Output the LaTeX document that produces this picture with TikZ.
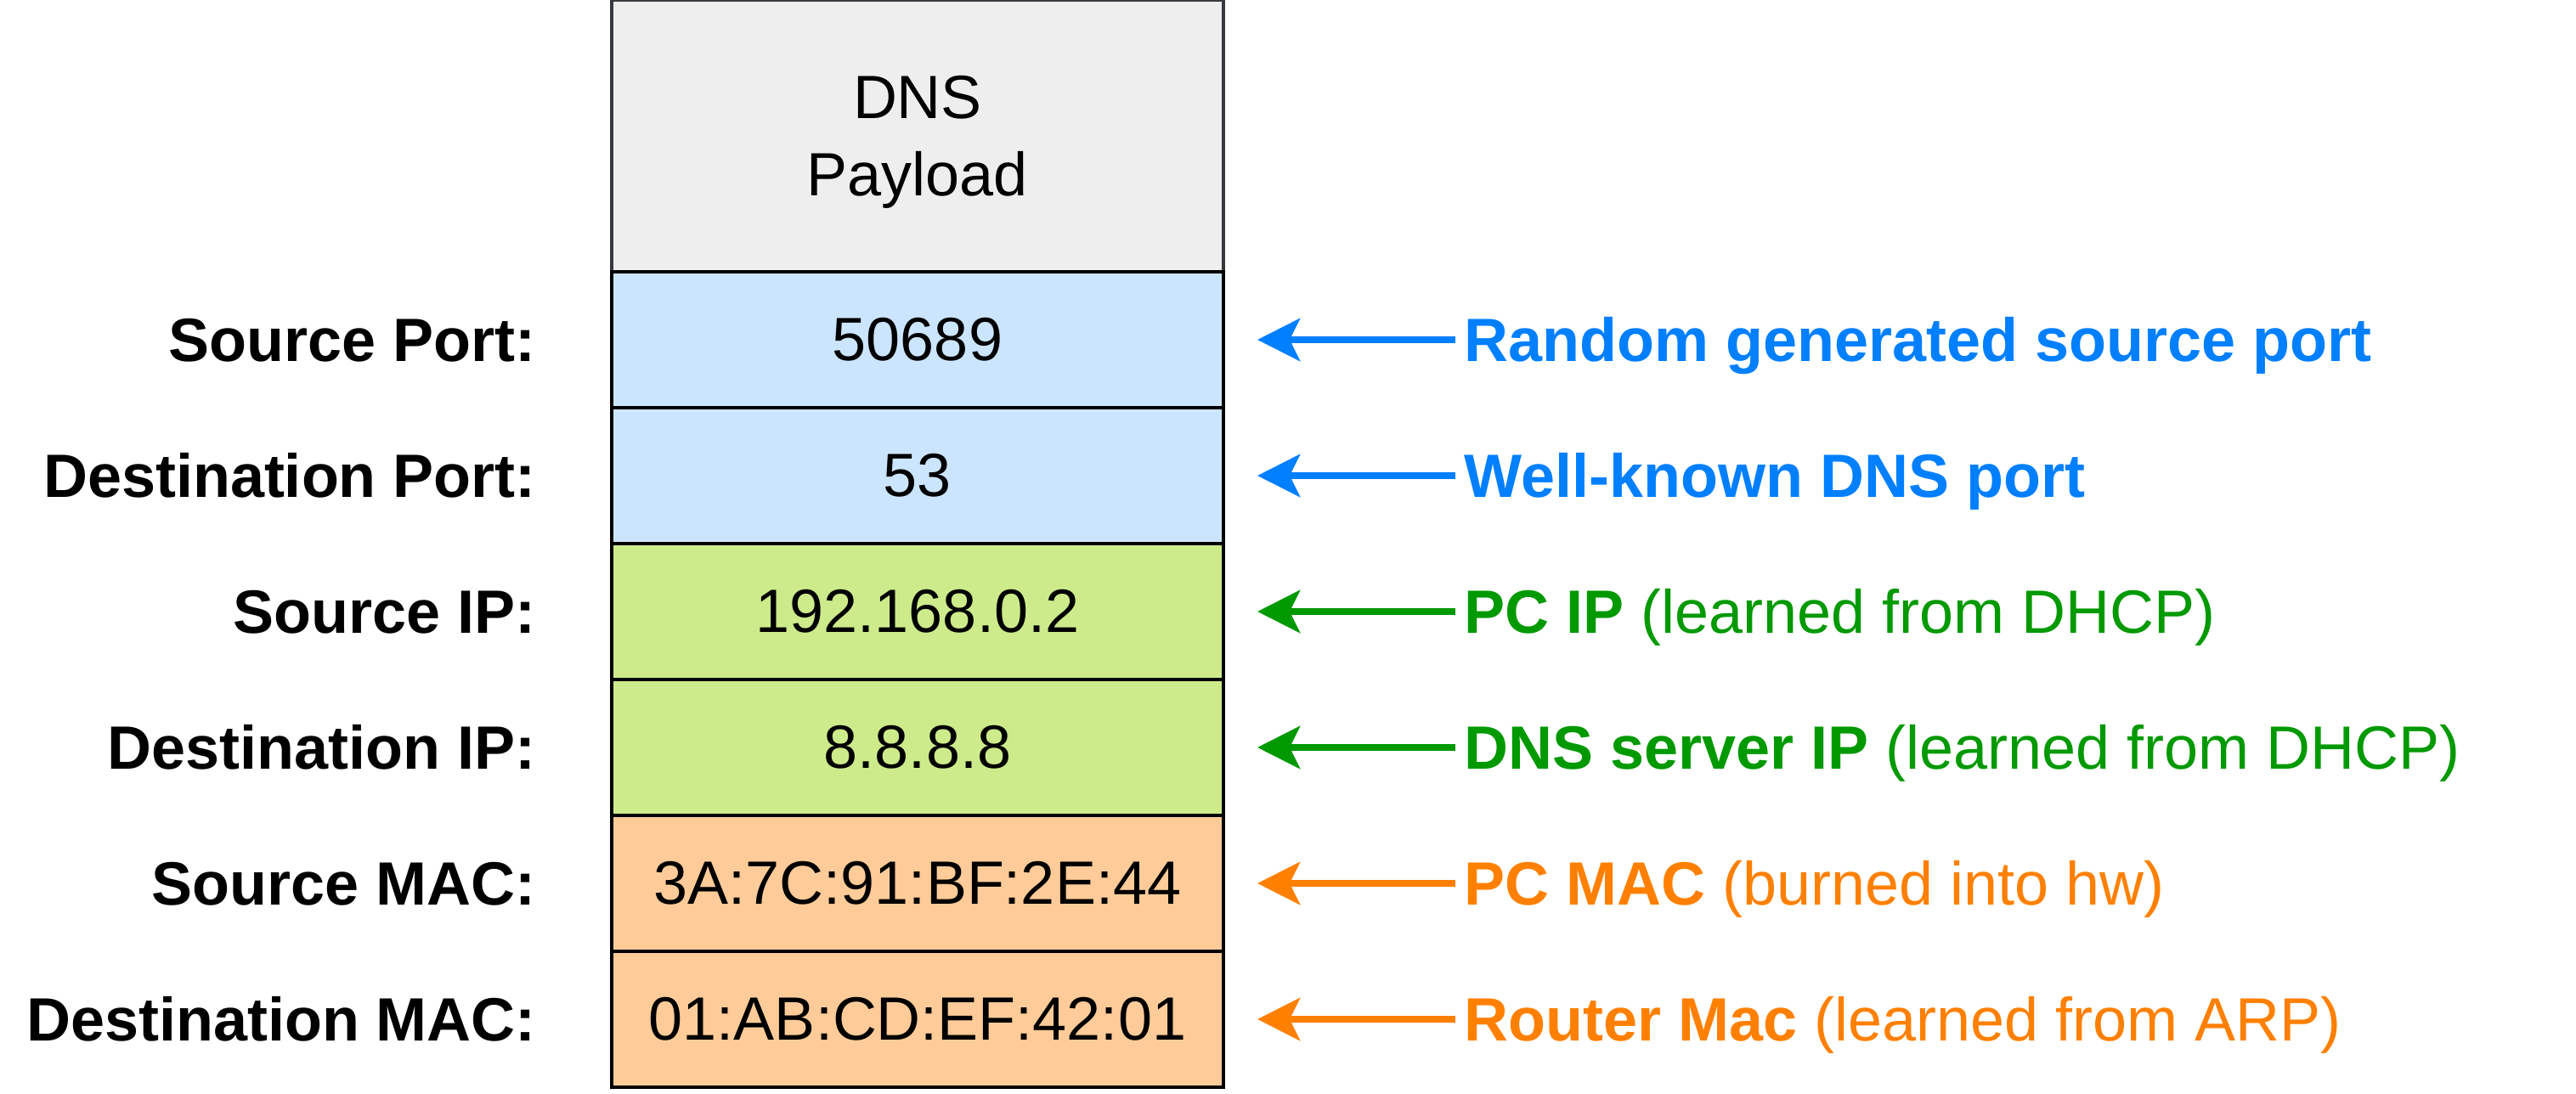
\documentclass[tikz,border=0pt]{standalone}
\usepackage{fontspec}
\setmainfont{Liberation Sans}
\usetikzlibrary{arrows.meta,positioning}

\definecolor{payfill}{HTML}{EEEEEE}
\definecolor{paydraw}{HTML}{36393D}
\definecolor{portfill}{HTML}{CCE5FF}
\definecolor{ipfill}{HTML}{CDEB8B}
\definecolor{macfill}{HTML}{FFCC99}
\definecolor{porttext}{HTML}{007FFF}
\definecolor{iptext}{HTML}{009900}
\definecolor{mactext}{HTML}{FF8000}

\begin{document}
\begin{tikzpicture}[
  font=\fontsize{12.8}{16.3}\selectfont,
  row/.style={draw=black,line width=0.025cm,minimum width=4.5cm,minimum height=1cm,
    inner sep=0pt,outer sep=0pt},
  lab/.style={inner sep=0pt,text height=0.322cm,text depth=0pt,
    font=\fontsize{12.8}{16.3}\selectfont\bfseries},
  note/.style={inner sep=0pt,text height=0.322cm,text depth=0pt},
  arr/.style={line width=0.05cm,-{Stealth[length=0.3125cm,width=0.3125cm,inset=0.075cm]},
    shorten >=0.25cm,shorten <=0.06cm}
]
\useasboundingbox (0,-0.05) rectangle (18.95,8);

% 报文各字段
\node[row,draw=paydraw,fill=payfill,minimum height=2cm,align=center] (payload) at (6.75,7)
  {DNS\\\raisebox{0pt}[\height][0pt]{Payload}};
\node[row,fill=portfill,below=0pt of payload] (sport) {50689};
\node[row,fill=portfill,below=0pt of sport] (dport) {53};
\node[row,fill=ipfill,below=0pt of dport] (sip) {192.168.0.2};
\node[row,fill=ipfill,below=0pt of sip] (dip) {8.8.8.8};
\node[row,fill=macfill,below=0pt of dip] (smac) {3A:7C:91:BF:2E:44};
\node[row,fill=macfill,below=0pt of smac] (dmac) {01:AB:CD:EF:42:01};

% 左侧字段名
\node[lab,left=0.55cm of sport] (lsport) {Source Port:};
\node[lab,left=0.55cm of dport] (ldport) {Destination Port:};
\node[lab,left=0.55cm of sip] (lsip) {Source IP:};
\node[lab,left=0.55cm of dip] (ldip) {Destination IP:};
\node[lab,left=0.55cm of smac] (lsmac) {Source MAC:};
\node[lab,left=0.55cm of dmac] (ldmac) {Destination MAC:};

% 右侧说明
\node[note,porttext,right=1.765cm of sport] (nsport) {\textbf{Random generated source port}};
\node[note,porttext,right=1.765cm of dport] (ndport) {\textbf{Well-known DNS port}};
\node[note,iptext,right=1.765cm of sip] (nsip) {\textbf{PC IP} (learned from DHCP)};
\node[note,iptext,right=1.765cm of dip] (ndip) {\textbf{DNS server IP} (learned from DHCP)};
\node[note,mactext,right=1.765cm of smac] (nsmac) {\textbf{PC MAC} (burned into hw)};
\node[note,mactext,right=1.765cm of dmac] (ndmac) {\textbf{Router Mac} (learned from ARP)};

% 箭头
\draw[arr,porttext] (nsport) -- (sport);
\draw[arr,porttext] (ndport) -- (dport);
\draw[arr,iptext] (nsip) -- (sip);
\draw[arr,iptext] (ndip) -- (dip);
\draw[arr,mactext] (nsmac) -- (smac);
\draw[arr,mactext] (ndmac) -- (dmac);

\end{tikzpicture}
\end{document}
